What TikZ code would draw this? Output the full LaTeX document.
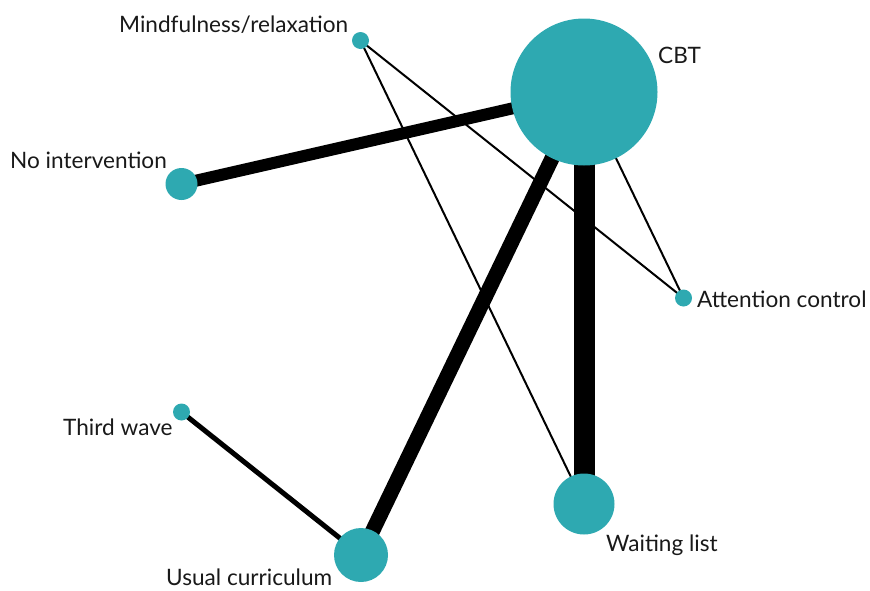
\documentclass[tikz,border=0pt]{standalone}
\usepackage{fontspec}
\setmainfont{Lato}
\usetikzlibrary{backgrounds}
\definecolor{teal}{RGB}{46,169,177}
\tikzset{
  arm/.style={circle, fill=teal, draw=none, inner sep=0pt},
  lab/.style={anchor=base west, inner sep=0pt, font=\fontsize{22.6}{27}\selectfont, text=black!90},
  link/.style={draw=black, line cap=butt}
}
\begin{document}
\begin{tikzpicture}[x=1pt,y=1pt]
\useasboundingbox (0,0) rectangle (870,-590);
% treatment nodes, sized by number of participants
\node[arm, minimum size=147pt] (cbt) at (584,-92) {};
\node[arm, minimum size=17pt]  (mr)  at (360.5,-40.5) {};
\node[arm, minimum size=32pt]  (ni)  at (181.5,-184) {};
\node[arm, minimum size=17pt]  (ac)  at (683.5,-298) {};
\node[arm, minimum size=17pt]  (tw)  at (181.5,-412) {};
\node[arm, minimum size=54pt]  (uc)  at (361,-555) {};
\node[arm, minimum size=61pt]  (wl)  at (584,-504) {};
% labels
\node[lab] (mr-l)  at (119,-32.3)  {Mindfulness/relaxation};
\node[lab] (cbt-l) at (658,-63)    {CBT};
\node[lab] (ni-l)  at (10,-168.3)  {No intervention};
\node[lab] (ac-l)  at (697,-307.7) {Attention control};
\node[lab] (tw-l)  at (63,-435)    {Third wave};
\node[lab] (uc-l)  at (166,-585.5) {Usual curriculum};
\node[lab] (wl-l)  at (606,-551.7) {Waiting list};
% comparisons, width by number of studies
\begin{scope}[on background layer]
\draw[link, line width=21pt] (cbt.center) -- (wl.center);
\draw[link, line width=15pt] (cbt.center) -- (uc.center);
\draw[link, line width=12pt] (cbt.center) -- (ni.center);
\draw[link, line width=5pt]  (tw.center)  -- (uc.center);
\draw[link, line width=2pt]  (cbt.center) -- (ac.center);
\draw[link, line width=2pt]  (mr.center)  -- (ac.center);
\draw[link, line width=2pt]  (mr.center)  -- (wl.center);
\end{scope}
\end{tikzpicture}
\end{document}
